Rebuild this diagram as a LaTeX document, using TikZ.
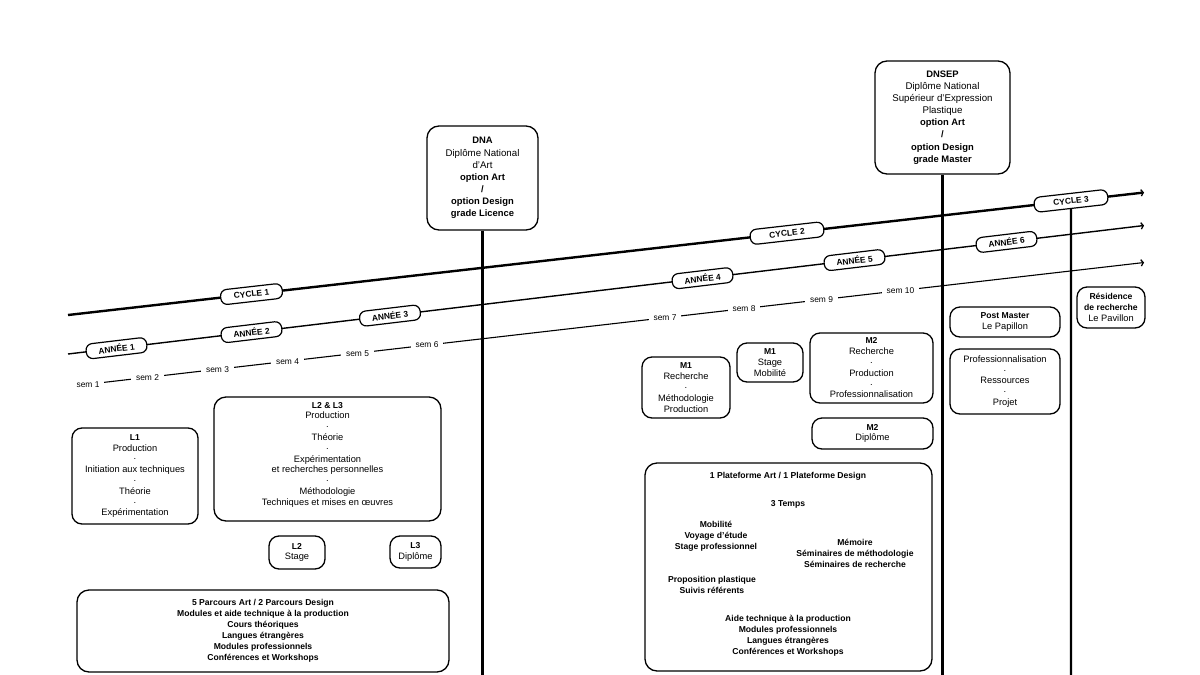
\documentclass[tikz,border=0pt]{standalone}
\usepackage{fontspec}
\setmainfont{Liberation Sans}
\usetikzlibrary{arrows.meta}
\newcommand{\myreg}{\fontsize{9.3}{10.8}\selectfont}
\newcommand{\mytop}{\fontsize{9.7}{12.1}\selectfont}
\newcommand{\mysem}{\fontsize{8.4}{10}\selectfont}
\newcommand{\mypill}{\fontsize{8.4}{9}\selectfont\bfseries}
\newcommand{\myplat}{\fontsize{8.6}{11}\selectfont\bfseries}
\newcommand{\hb}[1]{{\fontsize{8.6}{10.8}\selectfont\bfseries #1}}
\newcommand{\tb}[1]{{\fontsize{9.4}{12.1}\selectfont\bfseries #1}}
\tikzset{
  box/.style={draw, line width=1.3pt, rounded corners=10pt, fill=white, align=center, inner sep=0pt, font=\myreg},
  bigbox/.style={box, rounded corners=12pt},
  topbox/.style={box, rounded corners=12pt, font=\mytop},
  pill/.style={draw, line width=1.2pt, rounded corners=6.5pt, fill=white, minimum height=15pt, inner sep=0pt, font=\mypill},
  semlbl/.style={fill=white, inner xsep=5pt, inner ysep=1pt, font=\mysem},
  plattxt/.style={align=center, inner sep=0pt, font=\myplat},
  chev/.style={-{Straight Barb[length=2.2pt,width=6.5pt,line width=1.3pt,sep=1pt]}},
  cycleline/.style={line width=2.4pt, chev},
  anneeline/.style={line width=1.4pt, chev},
  semline/.style={line width=1.1pt, chev},
  vline/.style={line width=2.2pt},
}
\begin{document}
\begin{tikzpicture}[x=1pt,y=-1pt]
\fill[white] (0,0) rectangle (1200,675);
\useasboundingbox (0,0) rectangle (1200,675);

% free ends of the timelines
\coordinate (c0) at (68,315);
\coordinate (c1) at (1145,192.4);
\coordinate (a0) at (68,354);
\coordinate (a1) at (1145,225.4);
\coordinate (s0) at (88,384.2);
\coordinate (s1) at (1145,262.4);

\draw[cycleline] (c0) -- (c1);
\draw[anneeline] (a0) -- (a1);
\draw[semline] (s0) -- (s1);

% cycles
\node[pill, minimum width=62, rotate=6.49] (cy1) at (251.5,294.1) {CYCLE 1};
\node[pill, minimum width=74, rotate=6.49] (cy2) at (787,233.2) {CYCLE 2};
\node[pill, minimum width=74, rotate=6.49] (cy3) at (1071,200.9) {CYCLE 3};

% annees
\node[pill, minimum width=61, rotate=6.81] (an1) at (116.5,348.2) {ANNÉE 1};
\node[pill, minimum width=61, rotate=6.81] (an2) at (251.5,332.1) {ANNÉE 2};
\node[pill, minimum width=61, rotate=6.81] (an3) at (390,315.6) {ANNÉE 3};
\node[pill, minimum width=61, rotate=6.81] (an4) at (702.5,278.2) {ANNÉE 4};
\node[pill, minimum width=61, rotate=6.81] (an5) at (854.5,260.1) {ANNÉE 5};
\node[pill, minimum width=61, rotate=6.81] (an6) at (1006.5,241.9) {ANNÉE 6};

% semestres
\node[semlbl] (se1) at (88,384.2) {sem 1};
\node[semlbl] (se2) at (147.5,377.3) {sem 2};
\node[semlbl] (se3) at (217.5,369.3) {sem 3};
\node[semlbl] (se4) at (287.5,361.2) {sem 4};
\node[semlbl] (se5) at (357.5,353.2) {sem 5};
\node[semlbl] (se6) at (427,345.1) {sem 6};
\node[semlbl] (se7) at (665,317.7) {sem 7};
\node[semlbl] (se8) at (744,308.6) {sem 8};
\node[semlbl] (se9) at (821.5,299.7) {sem 9};
\node[semlbl] (se10) at (900.5,290.6) {sem 10};

% diplomes
\node[topbox, minimum width=111, minimum height=104] (dna) at (482.5,178)
  {\tb{DNA}\\Diplôme National\\d’Art\\\tb{option Art}\\\tb{/}\\\tb{option Design}\\\tb{grade Licence}};
\node[topbox, minimum width=135, minimum height=113] (dnsep) at (942.5,117.5)
  {\tb{DNSEP}\\Diplôme National\\Supérieur d’Expression\\Plastique\\\tb{option Art}\\\tb{/}\\\tb{option Design}\\\tb{grade Master}};

% cycle 1 boxes
\node[box, minimum width=126, minimum height=96] (l1) at (135,476)
  {\hb{L1}\\Production\\·\\Initiation aux techniques\\·\\Théorie\\·\\Expérimentation};
\node[bigbox, minimum width=227, minimum height=124] (l23) at (327.5,459)
  {\hb{L2 \& L3}\\Production\\·\\Théorie\\·\\Expérimentation\\et recherches personnelles\\·\\Méthodologie\\Techniques et mises en œuvres\\\mbox{}};
\node[box, minimum width=56, minimum height=33] (l2s) at (297,552.5) {\hb{L2}\\Stage};
\node[box, minimum width=51, minimum height=32] (l3d) at (415.5,552) {\hb{L3}\\Diplôme};
\node[bigbox, minimum width=372, minimum height=82, font=\myplat] (parc) at (263,631)
  {5 Parcours Art / 2 Parcours Design\\Modules et aide technique à la production\\Cours théoriques\\Langues étrangères\\Modules professionnels\\Conférences et Workshops};

% cycle 2 boxes
\node[box, minimum width=88, minimum height=61] (m1r) at (686,387.5)
  {\hb{M1}\\Recherche\\·\\Méthodologie\\Production};
\node[box, minimum width=66, minimum height=39] (m1s) at (770,362.5)
  {\hb{M1}\\Stage\\Mobilité};
\node[box, minimum width=123, minimum height=70] (m2r) at (871.5,368)
  {\hb{M2}\\Recherche\\·\\Production\\·\\Professionnalisation};
\node[box, minimum width=121, minimum height=31] (m2d) at (872.5,433.5)
  {\hb{M2}\\Diplôme};
\node[bigbox, minimum width=287, minimum height=208] (plat) at (788.5,567) {};
\node[plattxt] (pt1) at (788,476) {1 Plateforme Art / 1 Plateforme Design};
\node[plattxt] (pt2) at (788,504) {3 Temps};
\node[plattxt] (pt3) at (716,536) {Mobilité\\Voyage d’étude\\Stage professionnel};
\node[plattxt] (pt4) at (855,553) {Mémoire\\Séminaires de méthodologie\\Séminaires de recherche};
\node[plattxt] (pt5) at (712,584.5) {Proposition plastique\\Suivis référents};
\node[plattxt] (pt6) at (788,635.5) {Aide technique à la production\\Modules professionnels\\Langues étrangères\\Conférences et Workshops};

% cycle 3 boxes
\node[box, minimum width=110, minimum height=30] (pm) at (1005,322)
  {\hb{Post Master}\\Le Papillon};
\node[box, minimum width=110, minimum height=65] (prof) at (1005,381.5)
  {Professionnalisation\\·\\Ressources\\·\\Projet};
\node[box, minimum width=68, minimum height=41] (res) at (1111,307.5)
  {\hb{Résidence}\\\hb{de recherche}\\Le Pavillon};

% vertical lines
\coordinate (dnaend) at (482.5,675);
\coordinate (dnsepend) at (942.5,675);
\coordinate (cy3end) at (1071,675);
\draw[vline] (dna) -- (dnaend);
\draw[vline] (dnsep) -- (dnsepend);
\draw[vline] (cy3) -- (cy3end);
\end{tikzpicture}
\end{document}
